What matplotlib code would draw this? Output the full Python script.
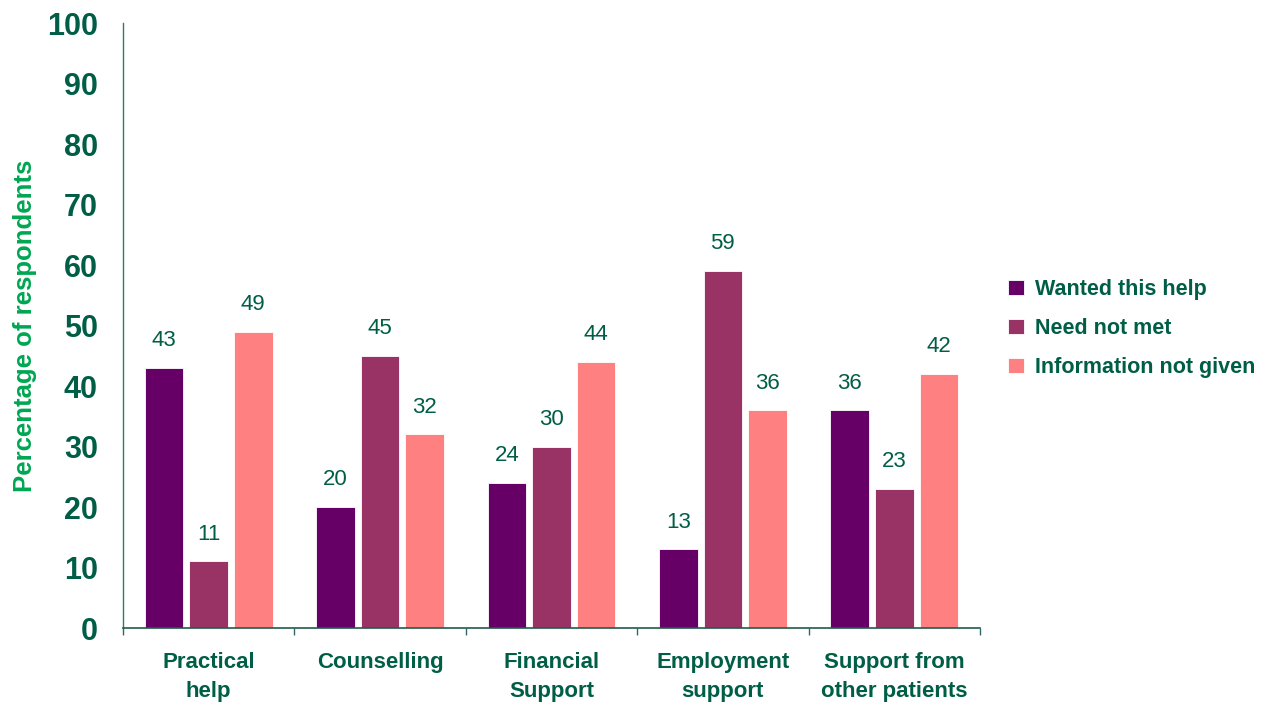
import numpy as np
import matplotlib.pyplot as plt
from matplotlib.ticker import FixedLocator

plt.rcParams['font.family'] = ['Liberation Sans', 'DejaVu Sans']

categories = ['Practical\nhelp', 'Counselling', 'Financial\nSupport',
              'Employment\nsupport', 'Support from\nother patients']
series_names = ['Wanted this help', 'Need not met', 'Information not given']
wanted = [43, 20, 24, 13, 36]
not_met = [11, 45, 30, 59, 23]
not_given = [49, 32, 44, 36, 42]

colors = ['#660066', '#993366', '#FF8080']
text_green = '#005E46'

fig = plt.figure(figsize=(12.73, 7.02), dpi=100)
ax = fig.add_axes([0.0966, 0.1054, 0.6732, 0.8618])

x = np.arange(len(categories))
width = 0.225
offset = 0.26
for i, (vals, name, c) in enumerate(zip([wanted, not_met, not_given], series_names, colors)):
    bars = ax.bar(x + (i - 1) * offset, vals, width, color=c, label=name,
                  edgecolor='white', linewidth=0.6, zorder=2)
    for b, v in zip(bars, vals):
        ax.annotate(str(v), (b.get_x() + b.get_width() / 2, v),
                    xytext=(0, 12), textcoords='offset points',
                    ha='center', va='bottom', fontsize=16, color=text_green)

ax.set_xlim(-0.5, len(categories) - 0.5)
ax.set_ylim(0, 100)
ax.set_yticks(range(0, 101, 10))
ax.tick_params(axis='y', length=0, pad=18, labelsize=22, labelcolor=text_green)
for t in ax.get_yticklabels():
    t.set_fontweight('bold')

ax.set_xticks(x)
ax.set_xticklabels(categories, fontsize=16, fontweight='bold', color=text_green,
                   linespacing=1.55)
ax.tick_params(axis='x', which='major', length=0, pad=17)
ax.xaxis.set_minor_locator(FixedLocator(np.arange(-0.5, len(categories), 1)))
ax.tick_params(axis='x', which='minor', length=5, color='#336666', width=1)

for s in ['top', 'right']:
    ax.spines[s].set_visible(False)
ax.spines['left'].set_color('#2E7D5E')
ax.spines['left'].set_linewidth(1)
ax.spines['bottom'].set_color('#1F5C4A')
ax.spines['bottom'].set_linewidth(1.2)
ax.spines['bottom'].set_zorder(3)

ax.set_ylabel('Percentage of respondents', fontsize=18.5, fontweight='bold',
              color='#00A651')
ax.yaxis.set_label_coords(-0.1, 0.5)

leg = fig.legend(loc='center left', bbox_to_anchor=(0.777, 0.532), frameon=False,
                 prop={'size': 15.5, 'weight': 'bold'}, handlelength=0.7,
                 handleheight=0.7, handletextpad=0.55, labelspacing=0.82)
for t in leg.get_texts():
    t.set_color(text_green)

fig.savefig('out.png', dpi=100)
